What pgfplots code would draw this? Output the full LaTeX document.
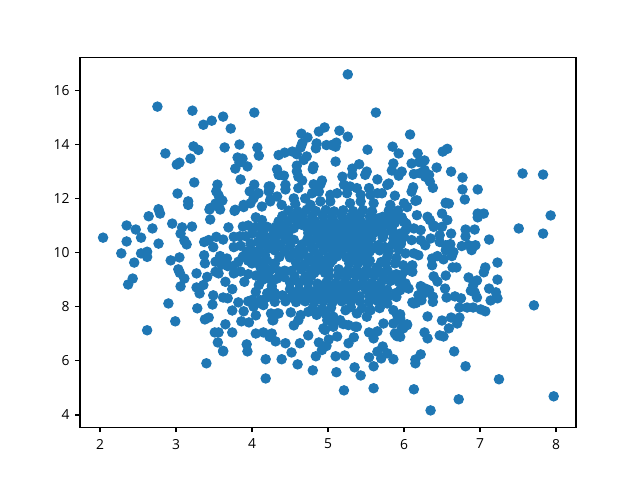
\documentclass[border=0pt]{standalone}
\usepackage{fontspec}
\setmainfont{Open Sans}
\usepackage{pgfplots}
\pgfplotsset{compat=1.18}
\definecolor{mplblue}{HTML}{1F77B4}
\begin{document}
\begin{tikzpicture}
\path[use as bounding box] (0,0) rectangle (6.4in,4.8in);
\begin{axis}[
  at={(0.8in,0.528in)}, anchor=south west,
  scale only axis, width=4.96in, height=3.696in,
  xmin=1.7365, xmax=8.2635, ymin=3.55, ymax=17.2,
  xtick={2,3,4,5,6,7,8}, ytick={4,6,8,10,12,14,16},
  tick align=outside, xtick pos=bottom, ytick pos=left,
  major tick length=3.5bp,
  every tick/.style={black,line width=0.8bp},
  axis line style={black,line width=0.8bp},
  tick label style={font=\fontsize{10}{12}\selectfont},
  /pgf/number format/assume math mode=true,
  xticklabel style={yshift=-1.5pt},
  yticklabel style={xshift=-0.5pt},
]
\addplot[only marks, color=mplblue, mark=*, mark size=3.4pt, mark options={solid, draw=mplblue, fill=mplblue, line width=0.75pt}] coordinates {
(2.755,15.39)(3.216,15.24)(3.47,14.87)(3.36,14.72)(3.62,15.02)(3.72,14.58)(4.03,15.17)(3.835,13.99)(3.64,13.88)(4.07,13.88)
(4.09,13.58)(3.23,13.92)(3.295,13.79)(2.86,13.66)(3.19,13.47)(3.045,13.32)(3.01,13.25)(3.81,13.51)(3.875,13.47)(3.835,13.32)
(3.94,13.18)(3.78,13.10)(4.35,13.6)(4.33,13.07)(4.35,12.87)(3.85,12.7)(3.24,12.59)(3.545,12.51)(3.02,12.18)(3.53,12.26)
(3.56,12.11)(3.61,11.92)(3.52,11.81)(3.16,11.89)(3.16,11.76)(2.77,11.6)(4.03,12.51)(4.22,12.44)(3.97,12.26)(4.085,12.19)
(4.22,12.26)(4.33,12.07)(4.02,12.0)(4.24,11.89)(3.89,11.76)(3.78,11.58)(3.98,11.82)(4.13,11.7)(3.45,11.64)(3.56,11.7)
(2.79,11.44)(2.64,11.34)(2.35,11.0)(2.47,10.85)(2.69,10.89)(2.95,11.07)(3.21,10.96)(3.08,10.93)(3.06,10.7)(2.54,10.55)
(2.04,10.55)(2.35,10.41)(2.77,10.33)(3.11,10.44)(3.14,10.3)(2.28,9.97)(2.54,9.97)(2.62,10.03)(2.62,9.84)(2.45,9.63)
(2.93,9.71)(3.045,9.82)(3.03,9.38)(3.05,9.25)(3.11,9.04)(3.27,9.23)(2.43,9.04)(2.37,8.82)(3.06,8.75)(2.9,8.12)
(3.28,7.94)(2.99,7.46)(2.62,7.13)(3.45,11.22)(3.44,11.59)(3.58,11.59)(3.69,10.93)(3.77,11.54)(3.89,11.68)(3.88,10.96)
(3.95,11.0)(4.05,11.3)(4.13,11.2)(3.37,10.39)(3.43,10.46)(3.53,10.58)(3.62,10.48)(3.49,10.2)(3.76,10.58)(3.76,10.2)
(3.84,10.6)(3.37,9.9)(3.38,9.6)(3.52,9.66)(3.58,9.87)(3.67,9.78)(3.82,9.66)(3.52,9.29)(3.41,9.1)(3.56,9.23)
(3.76,9.23)(3.65,8.92)(3.36,8.8)(3.27,8.71)(3.31,8.49)(3.74,8.65)(3.9,8.92)(3.49,8.42)(3.62,8.34)(3.68,8.31)
(3.48,8.08)(3.74,7.86)(3.82,8.16)(3.89,7.83)(3.95,8.2)(4.02,8.0)(4.11,8.24)(4.15,8.06)(4.05,7.68)(3.43,7.6)
(3.38,7.53)(3.65,7.35)(3.86,7.46)(3.96,7.42)(3.51,7.05)(3.56,7.05)(3.74,7.05)(3.55,6.68)(3.62,6.37)(3.93,6.61)
(4.05,7.01)(4.15,7.05)(4.26,7.01)(4.23,6.89)(4.31,6.72)(4.25,7.75)(4.28,7.5)(4.29,8.34)(4.35,7.75)(4.09,8.8)
(4.26,8.76)(4.13,8.98)(4.33,9.04)(4.11,9.47)(3.98,9.9)(3.93,10.03)(3.98,10.33)(4.17,10.33)(4.28,10.83)(4.2,10.95)
(4.0,10.7)(4.11,10.64)
(4.05,10.95)(4.15,10.9)(4.27,10.6)(4.17,10.6)(4.08,10.4)(4.22,10.15)(4.1,10.1)(4.02,10.05)(4.05,9.85)(4.17,9.9)
(4.2,9.7)(4.1,9.65)(4.0,9.6)(4.15,9.45)(4.22,9.25)(4.12,9.25)(4.05,9.15)(4.2,9.05)(4.27,8.6)(4.2,8.5)(4.3,8.5)
(3.95,9.7)(3.88,9.85)(3.92,10.6)(3.85,10.25)(3.75,9.5)(3.68,9.5)(3.6,9.55)(3.95,9.2)(3.85,9.3)(4.05,8.55)
(4.15,8.25)(4.2,8.35)(4.08,8.15)(4.0,8.25)
(5.26,16.58)(5.63,15.17)(6.08,14.36)(4.955,14.62)(4.88,14.47)(5.15,14.5)(5.26,14.28)(4.65,14.39)(4.73,14.25)(4.66,14.03)
(4.64,13.88)(4.85,14.03)(4.84,13.85)(4.98,13.97)(5.05,13.97)(5.11,14.06)(5.1,13.91)(5.52,13.8)(5.85,13.91)(5.93,13.66)
(6.18,13.66)(6.57,13.83)(6.51,13.73)(4.43,13.69)(4.53,13.73)(4.59,13.63)(4.72,13.55)(4.68,13.42)(5.1,13.36)(6.27,13.4)
(5.86,13.29)(6.1,13.29)(6.2,13.34)(6.43,13.14)(6.62,12.99)(6.77,12.77)(6.77,12.33)(6.8,11.96)(6.97,12.33)(5.41,13.26)
(5.32,13.1)(4.81,13.18)(4.8,13.08)(4.59,13.21)(4.59,13.0)(4.36,12.87)(4.42,12.84)(4.61,12.8)(5.84,13.03)(5.97,12.99)
(5.93,12.84)(5.51,12.99)(5.49,12.87)(6.13,12.9)(6.21,12.93)(6.27,13.05)(6.33,12.87)(6.28,12.8)(5.19,12.8)(5.32,12.87)
(5.65,12.7)(5.8,12.55)(5.78,12.5)(4.92,12.66)(4.81,12.52)(4.9,12.52)(4.66,12.66)(4.44,12.5)(4.44,12.33)(4.61,12.38)
(6.34,12.62)(6.38,12.39)(6.12,12.41)(6.1,12.25)(5.54,12.38)(5.88,12.1)(5.21,12.5)(5.29,12.44)(5.38,12.38)(4.55,12.0)
(4.7,12.0)(4.79,12.19)(4.88,12.25)(5.03,12.13)(5.12,12.19)(5.25,12.19)(5.43,12.13)(5.65,12.19)(5.71,12.19)(5.56,12.13)
(6.55,11.82)(6.59,11.81)(6.15,11.91)(6.0,11.82)(4.39,11.76)(4.57,11.79)(4.77,11.76)(4.9,11.89)(5.03,11.89)(5.29,11.82)
(5.43,11.89)(5.6,11.82)(5.82,11.76)(4.24,12.44)(4.24,11.95)
(7.56,12.92)(7.83,12.88)(7.93,11.37)(7.51,10.89)(7.83,10.7)(7.12,10.48)(6.93,10.85)(7.05,11.44)(6.97,11.44)(6.97,11.3)
(6.81,10.85)(6.81,10.6)(6.94,10.27)(6.85,10.27)(6.76,10.24)(6.62,10.7)(6.55,11.84)(6.5,11.44)(6.57,11.2)(6.5,10.95)
(6.34,11.2)(6.39,10.95)(6.17,11.38)(6.13,10.89)(6.03,11.07)(6.17,11.93)(6.04,11.68)(6.47,10.64)(6.47,10.39)(6.55,10.27)
(6.61,10.31)(6.35,10.52)(6.22,10.46)(6.28,10.27)(6.1,10.46)(6.0,10.58)
(7.23,9.63)(7.23,9.0)(7.07,9.45)(7.05,9.27)(6.85,9.08)(6.96,8.97)(6.69,9.45)(6.64,9.45)(6.55,9.15)(6.39,9.12)
(6.44,8.93)(6.54,8.67)(6.91,8.79)(6.88,8.59)(6.93,8.53)(6.96,8.34)(7.12,8.67)(7.21,8.53)(7.23,8.31)(7.14,8.23)
(6.56,8.34)(6.67,8.38)(6.75,8.31)(6.73,7.97)(6.83,7.97)(6.91,7.97)(7.01,7.9)(7.07,7.83)(7.71,8.05)(6.73,7.6)
(6.62,7.6)(6.5,7.49)(6.7,7.38)(6.59,7.2)(6.31,7.64)(6.27,7.05)(6.31,6.83)(6.47,6.94)(6.52,6.9)(6.22,6.24)
(6.15,6.05)(6.15,5.91)(6.66,6.35)(6.81,5.8)(7.25,5.32)(6.13,4.95)(6.72,4.58)(6.35,4.17)(7.97,4.69)(6.04,7.35)
(5.99,7.2)(5.95,7.57)(5.95,7.72)(5.95,6.89)(6.11,8.16)(6.16,8.14)(6.23,8.24)(6.19,8.43)(6.26,8.49)(6.38,8.18)
(6.38,8.37)(6.33,8.61)(6.22,8.76)(6.28,8.67)(6.06,8.67)(5.95,8.61)(6.02,8.86)(5.97,9.17)(6.11,9.29)(6.11,9.53)
(6.37,9.78)(6.37,9.53)(6.44,9.87)(6.52,9.75)(6.63,9.87)(6.65,10.02)(6.55,10.09)(6.89,10.09)(6.19,9.9)(6.13,9.97)
(6.02,9.97)(5.99,9.53)(6.03,9.35)
(3.4,5.91)(4.18,5.35)(4.18,6.06)(4.39,6.06)(4.6,5.87)(4.52,6.31)(4.8,5.65)(4.84,6.17)(5.1,6.17)(5.22,6.2)
(5.11,5.58)(5.35,5.76)(5.43,5.46)(5.21,4.91)(5.6,4.99)(5.6,5.8)(5.54,6.13)(5.7,6.09)(5.86,6.06)(5.65,6.34)
(5.72,6.53)(5.78,6.28)(3.62,6.35)(3.94,6.35)(4.44,6.65)(4.63,6.65)(4.74,6.94)(4.55,7.31)(4.27,7.5)(4.88,6.68)
(5.01,6.79)(4.92,6.4)(4.98,6.55)(5.12,6.9)(5.34,6.87)(5.27,6.65)(4.96,7.14)(5.07,7.32)(5.2,7.36)(5.36,7.26)
(5.54,7.05)(5.65,7.09)(5.6,6.83)(5.73,7.38)(5.86,7.38)(5.88,7.01)(5.91,6.91)(5.97,7.2)
(6.13,8.12)(5.9,6.95)(6.04,7.32)(5.86,7.87)(5.91,7.69)(5.95,7.5)(4.51,7.79)(4.64,7.69)(4.61,7.5)(4.74,7.81)
(4.99,7.5)(5.07,7.63)(5.16,7.5)(4.94,7.2)(5.07,7.26)(5.27,7.32)(5.38,7.26)(5.23,7.87)(5.38,7.75)(5.51,7.63)
(5.56,7.87)(4.33,7.75)(6.31,11.32)(6.0,11.13)(6.02,10.83)(6.22,10.83)(6.39,11.0)
(4.48,11.55)(4.6,11.52)(4.72,11.58)(4.84,11.53)(4.97,11.57)(5.08,11.52)(5.2,11.56)(5.33,11.53)(5.46,11.57)(5.58,11.52)(5.92,11.55)
(4.4,11.35)(4.53,11.32)(4.66,11.36)(4.79,11.33)(4.93,11.37)(5.05,11.33)(5.18,11.36)(5.3,11.32)(5.42,11.36)(5.55,11.33)(5.66,11.26)(5.86,11.33)
(4.35,11.15)(4.47,11.12)(4.59,11.16)(4.7,11.13)(4.83,11.16)(4.95,11.12)(5.07,11.17)(5.2,11.13)(5.32,11.16)(5.44,11.12)(5.57,11.16)(5.68,11.12)(5.8,11.15)(5.88,11.1)
(4.31,10.95)(4.43,10.92)(4.55,10.9)(4.72,10.93)(4.85,10.96)(4.97,10.92)(5.09,10.96)(5.21,10.93)(5.33,10.96)(5.46,10.92)(5.58,10.96)(5.7,10.93)(5.84,10.92)
(4.38,10.72)(4.48,10.74)(4.74,10.72)(4.87,10.75)(4.99,10.71)(5.12,10.75)(5.25,10.72)(5.37,10.75)(5.49,10.71)(5.62,10.75)(5.74,10.72)(5.86,10.74)(5.95,10.7)
(4.31,10.52)(4.44,10.5)(4.73,10.5)(4.84,10.53)(4.96,10.5)(5.08,10.53)(5.2,10.49)(5.32,10.53)(5.45,10.5)(5.57,10.53)(5.86,10.52)(5.97,10.48)
(4.25,10.3)(4.37,10.28)(4.66,10.3)(4.78,10.27)(4.9,10.31)(5.03,10.27)(5.16,10.31)(5.28,10.27)(5.4,10.31)(5.53,10.28)(5.85,10.3)(5.96,10.32)
(4.3,10.08)(4.43,10.04)(4.55,9.99)(4.68,10.07)(4.82,10.04)(4.94,10.08)(5.06,10.04)(5.18,10.08)(5.31,10.04)(5.43,10.08)(5.55,10.04)(5.68,10.08)(5.8,10.05)(5.93,10.1)
(4.36,9.84)(4.5,9.82)(4.62,9.85)(4.74,9.81)(4.87,9.85)(5.0,9.82)(5.12,9.86)(5.24,9.82)(5.36,9.85)(5.48,9.81)(5.78,9.84)(5.9,9.8)
(4.3,9.6)(4.58,9.62)(4.7,9.58)(4.82,9.62)(4.95,9.59)(5.03,9.62)(5.28,9.6)(5.4,9.62)(5.52,9.58)(5.64,9.45)(5.76,9.62)(5.88,9.6)
(4.25,9.38)(4.36,9.3)(4.52,9.32)(4.65,9.38)(4.77,9.34)(4.89,9.38)(5.01,9.34)(5.14,9.38)(5.26,9.34)(5.38,9.38)(5.5,9.34)(5.78,9.35)(5.9,9.2)
(4.42,9.1)(4.56,9.13)(4.7,9.1)(4.78,9.13)(5.01,9.12)(5.13,9.15)(5.25,9.12)(5.37,9.15)(5.49,9.12)(5.61,9.15)(5.73,9.12)(5.85,9.15)
(4.27,8.95)(4.5,8.9)(4.62,8.87)(4.74,8.9)(4.86,8.85)(4.98,8.9)(5.1,8.87)(5.22,8.9)(5.34,8.87)(5.46,8.9)(5.58,8.87)(5.7,8.9)(5.82,8.95)(5.93,8.92)
(4.5,8.65)(4.62,8.62)(4.74,8.66)(4.86,8.63)(4.98,8.66)(5.1,8.62)(5.22,8.66)(5.33,8.6)(5.57,8.62)(5.69,8.66)(5.78,8.62)
(4.4,8.42)(4.53,8.4)(4.65,8.43)(4.77,8.4)(4.89,8.44)(5.01,8.4)(5.13,8.44)(5.25,8.4)(5.35,8.36)(5.55,8.38)(5.67,8.42)(5.79,8.38)(5.9,8.36)
(4.3,8.18)(4.44,8.2)(4.58,8.17)(4.7,8.2)(4.82,8.17)(4.94,8.2)(5.06,8.17)(5.18,8.2)(5.3,8.17)(5.42,8.2)(5.54,8.17)(5.66,8.2)(5.78,8.12)
(4.8,7.95)(4.92,7.92)(5.04,7.96)(5.3,7.98)(5.45,7.95)(5.68,7.95)(4.85,7.7)(4.97,7.72)
(4.55,10.47)(4.62,10.12)(4.5,10.25)(5.7,9.65)(5.66,10.27)(5.72,10.55)(5.75,10.2)(5.72,11.32)(5.78,11.32)(5.8,11.55)(5.97,11.3)(5.5,8.62)(5.42,8.38)(5.89,8.5)(4.43,9.33)
(4.9,9.72)(5.06,9.72)(4.76,9.72)(5.3,9.72)(5.42,9.72)(5.55,9.7)(4.62,9.5)(4.82,9.25)(4.96,9.25)(5.2,9.25)(5.32,9.25)(5.44,9.22)(5.56,9.25)(5.68,9.3)(4.56,9.0)(4.68,9.0)
(4.92,8.77)(5.04,8.77)(5.16,8.77)(5.28,8.77)(5.4,8.77)(5.52,8.77)(5.64,8.77)(4.56,8.52)(4.68,8.52)(4.8,8.52)(4.92,8.52)(5.04,8.52)(5.16,8.52)(5.62,8.52)(5.74,8.52)
(4.46,8.3)(4.6,8.3)(4.72,8.3)(4.84,8.3)(4.96,8.3)(5.08,8.3)(5.2,8.3)(5.6,8.3)(5.73,8.28)(4.9,10.4)(5.02,10.4)(5.14,10.4)(5.26,10.4)(5.38,10.4)(5.5,10.4)
(4.8,10.15)(4.96,10.17)(5.1,10.17)(5.22,10.17)(5.34,10.17)(5.47,10.17)(5.6,10.17)(4.93,10.6)(5.05,10.62)(5.17,10.62)(5.3,10.62)(5.42,10.62)(5.54,10.62)
(4.8,10.82)(4.92,10.83)(5.04,10.83)(5.16,10.83)(5.28,10.83)(5.4,10.83)(5.52,10.83)(5.64,10.83)(4.65,11.03)(4.77,11.03)(4.9,11.03)(5.02,11.03)(5.14,11.03)(5.26,11.03)(5.38,11.03)(5.5,11.03)(5.62,11.03)(5.74,11.03)
};
\end{axis}
\end{tikzpicture}
\end{document}
